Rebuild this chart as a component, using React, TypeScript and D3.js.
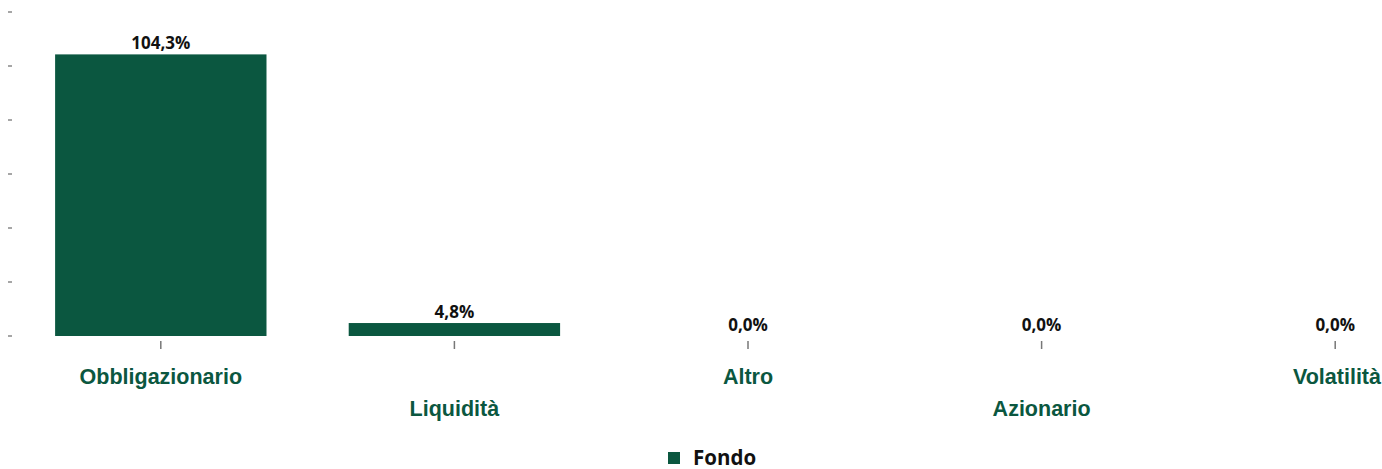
import React from "react";
import * as d3 from "d3";

const categories = ["Obbligazionario", "Liquidità", "Altro", "Azionario", "Volatilità"];
const values = [104.3, 4.8, 0.0, 0.0, 0.0];
const yTicks = [0, 20, 40, 60, 80, 100, 120];
const seriesName = "Fondo";

const W = 1382;
const H = 469;
const GREEN = "#0b5740";

export default function App() {
  const x = d3.scaleBand<string>().domain(categories).range([14, 1482]).paddingInner(0.28).paddingOuter(0.14);
  const y = d3.scaleLinear().domain([0, 120]).range([336, 12]);
  const fmt = (v: number) => v.toFixed(1).replace(".", ",") + "%";
  return (
    <svg width={W} height={H} style={{ position: "absolute", left: 0, top: 0, background: "#fff" }}>
      {yTicks.map((t) => (
        <line key={t} x1={8} x2={12} y1={y(t)} y2={y(t)} stroke="#888" strokeWidth={1.5} />
      ))}
      {categories.map((c, i) => {
        const bx = x(c)!;
        const cx = bx + x.bandwidth() / 2;
        const v = values[i];
        const last = cx + 60 > W;
        return (
          <g key={c}>
            {v > 0 && (
              <rect x={bx} y={y(v)} width={x.bandwidth()} height={y(0) - y(v)} fill={GREEN} />
            )}
            <text x={cx} y={y(v) - 5} textAnchor="middle" fontFamily="'Open Sans', sans-serif" fontWeight={700} fontSize={17} fill="#111">
              {fmt(v)}
            </text>
            <line x1={cx} x2={cx} y1={341} y2={349} stroke="#777" strokeWidth={1.5} />
            <text
              x={last ? W - 1 : cx}
              y={i % 2 === 0 ? 384 : 416}
              textAnchor={last ? "end" : "middle"}
              fontFamily="'Liberation Sans', Arial, sans-serif"
              fontWeight={700}
              fontSize={21.5}
              fill={GREEN}
            >
              {c}
            </text>
          </g>
        );
      })}
      <rect x={668} y={452} width={12} height={12} fill={GREEN} />
      <text x={693} y={465} fontFamily="'Open Sans', sans-serif" fontWeight={700} fontSize={20.5} fill="#111">
        {seriesName}
      </text>
    </svg>
  );
}
